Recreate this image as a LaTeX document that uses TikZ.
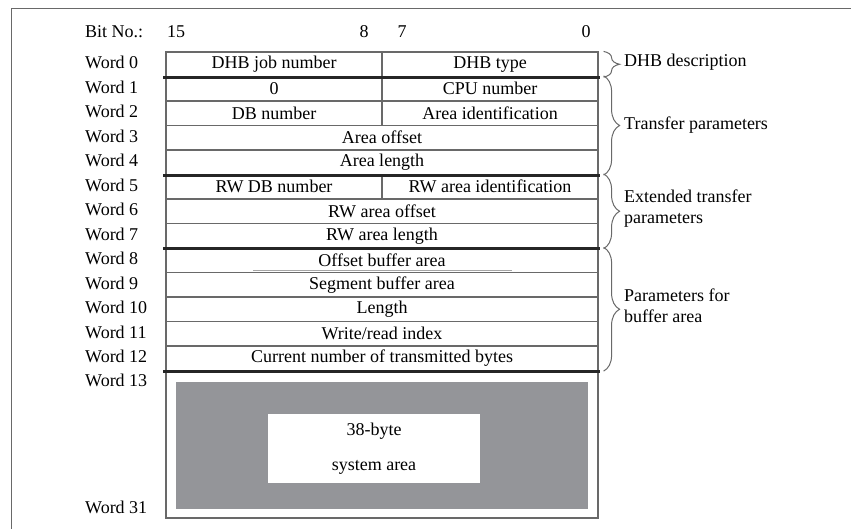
\documentclass[tikz,border=0pt]{standalone}
\usepackage{fontspec}
\setmainfont{Liberation Serif}
\usetikzlibrary{decorations.pathreplacing}
\definecolor{sysgray}{RGB}{148,149,153}
\definecolor{linegray}{RGB}{105,105,105}
\begin{document}
\begin{tikzpicture}[
    x=1pt, y=-1pt,
    font=\fontsize{18}{21}\selectfont,
    full/.style={draw=linegray, line width=1.2pt, minimum width=432pt, minimum height=24.5pt, inner sep=0pt},
    half/.style={draw=linegray, line width=1.2pt, minimum width=216pt, minimum height=24.5pt, inner sep=0pt},
    wlab/.style={anchor=west, inner sep=0pt},
    sep/.style={line width=3pt, black!85},
    brc/.style={decorate, decoration={brace, amplitude=16pt}, linegray, line width=1pt},
    blab/.style={anchor=west, align=left, inner sep=0pt}
  ]
    \useasboundingbox (0,0) rectangle (851,529);
    \draw[linegray, line width=1pt] (11,529) -- (11,9) -- (851,9);

    % bit numbers
    \node[wlab] (bitno) at (85,32) {Bit No.:};
    \node[wlab] (bit15) at (167,32) {15};
    \node (bit8) at (364,32) {8};
    \node (bit7) at (402,32) {7};
    \node (bit0) at (586,32) {0};

    % word labels
    \foreach \w in {0,...,12}
      \node[wlab] (lab\w) at (85,{62.5+24.5*\w}) {Word \w};
    \node[wlab] (lab13) at (85,380) {Word 13};
    \node[wlab] (lab31) at (85,507) {Word 31};

    % header rows
    \node[half] (w0a) at (274,64.25)  {DHB job number};
    \node[half] (w0b) at (490,64.25)  {DHB type};
    \node[half] (w1a) at (274,88.75)  {0};
    \node[half] (w1b) at (490,88.75)  {CPU number};
    \node[half] (w2a) at (274,113.25) {DB number};
    \node[half] (w2b) at (490,113.25) {Area identification};
    \node[full] (w3)  at (382,137.75) {Area offset};
    \node[full] (w4)  at (382,162.25) {Area length};
    \node[half] (w5a) at (274,186.75) {RW DB number};
    \node[half] (w5b) at (490,186.75) {RW area identification};
    \node[full] (w6)  at (382,211.25) {RW area offset};
    \node[full] (w7)  at (382,235.75) {RW area length};
    \node[full] (w8)  at (382,260.25) {Offset buffer area};
    \node[full] (w9)  at (382,284.75) {Segment buffer area};
    \node[full] (w10) at (382,309.25) {Length};
    \node[full] (w11) at (382,333.75) {Write/read index};
    \node[full] (w12) at (382,358.25) {Current number of transmitted bytes};
    \draw[black!35, line width=0.6pt] (253,270.5) -- (512,270.5);

    % system area
    \node[draw=linegray, line width=1.2pt, minimum width=432pt, minimum height=147.5pt] (sysblk) at (382,444.25) {};
    \node[fill=sysgray, minimum width=412pt, minimum height=127pt] (sysfill) at (382,445.5) {};
    \node[fill=white, minimum width=212pt, minimum height=69pt, align=center] (sysbox) at (374,448.5)
      {38-byte\\[14pt]system area};

    % group separators
    \draw[sep] ([xshift=-2pt]w0a.south west) -- ([xshift=1pt]w0b.south east);
    \draw[sep] ([xshift=-2pt]w4.south west) -- ([xshift=1pt]w4.south east);
    \draw[sep] ([xshift=-2pt]w7.south west) -- ([xshift=1pt]w7.south east);
    \draw[sep] ([xshift=-2pt]w12.south west) -- ([xshift=1pt]w12.south east);

    % braces
    \draw[brc] ([xshift=5pt]w0b.north east) -- ([xshift=5pt]w0b.south east);
    \draw[brc] ([xshift=5pt]w1b.north east) -- ([xshift=5pt]w4.south east);
    \draw[brc] ([xshift=5pt]w5b.north east) -- ([xshift=5pt]w7.south east);
    \draw[brc] ([xshift=5pt]w8.north east) -- ([xshift=5pt]w12.south east);

    \node[blab] (gdesc) at (624,62)  {DHB description};
    \node[blab] (gtran) at (624,125) {Transfer parameters};
    \node[blab] (gext)  at (624,209) {Extended transfer\\parameters};
    \node[blab] (gbuf)  at (624,306) {Parameters for\\buffer area};
  \end{tikzpicture}
\end{document}
